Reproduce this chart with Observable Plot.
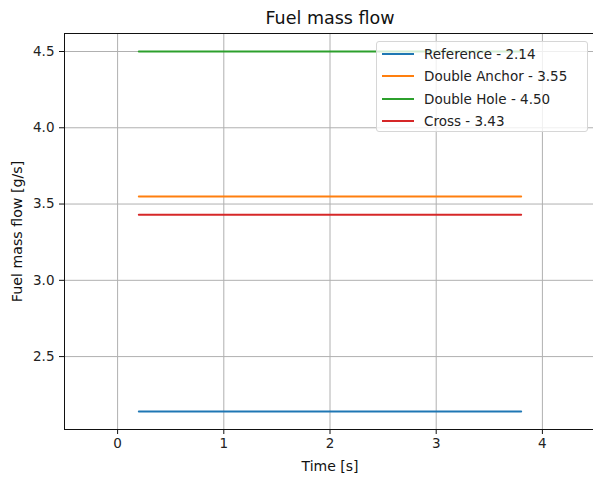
<!DOCTYPE html>
<html>
<head>
<meta charset="utf-8">
<script src="https://cdn.jsdelivr.net/npm/d3@7"></script>
<script src="https://cdn.jsdelivr.net/npm/@observablehq/plot@0.6"></script>
<style>
  html, body { margin: 0; padding: 0; background: #fff; }
  #wrap { position: relative; width: 593px; height: 481px; overflow: hidden; font-family: "DejaVu Sans", sans-serif; }
  #legend { position: absolute; left: 376px; top: 41px; width: 212px; height: 91px;
            background: rgba(255,255,255,0.8); border: 1px solid #d6d6d6; border-radius: 3px; box-sizing: border-box; }
  .row { position: absolute; left: 0; height: 22px; display: flex; align-items: center; font-size: 13.5px; color: #222; white-space: nowrap; }
  .sw { display: inline-block; width: 32px; height: 2px; margin-left: 5px; margin-right: 10px; }
  svg text { font-family: "DejaVu Sans", sans-serif; }
</style>
</head>
<body>
<div id="wrap"></div>
<script>
const title = "Fuel mass flow";
const xLabel = "Time [s]";
const yLabel = "Fuel mass flow [g/s]";
const series = ["Reference", "Double Anchor", "Double Hole", "Cross"];
const flows = [2.14, 3.55, 4.50, 3.43];
const startTime = 0.2;
const endTime = 3.8;
const colors = ["#1f77b4", "#ff7f0e", "#2ca02c", "#d62728"];
const xTicks = [0, 1, 2, 3, 4];
const yTicks = [2.5, 3.0, 3.5, 4.0, 4.5];
const xDomain = [-0.5, 4.5];
const yDomain = [2.022, 4.618];

const lineData = series.flatMap((s, i) => [
  {series: s, t: startTime, v: flows[i]},
  {series: s, t: endTime, v: flows[i]}
]);

const chart = Plot.plot({
  width: 593,
  height: 481,
  marginLeft: 64,
  marginRight: -2,
  marginTop: 33,
  marginBottom: 52,
  style: {fontFamily: "DejaVu Sans, sans-serif", fontSize: "13.5px", color: "#222", background: "white"},
  x: {domain: xDomain, ticks: xTicks},
  y: {domain: yDomain, ticks: yTicks},
  color: {domain: series, range: colors},
  marks: [
    Plot.gridX(xTicks, {stroke: "#b0b0b0", strokeOpacity: 1, strokeWidth: 1}),
    Plot.gridY(yTicks, {stroke: "#b0b0b0", strokeOpacity: 1, strokeWidth: 1}),
    Plot.line(lineData, {x: "t", y: "v", z: "series", stroke: "series", strokeWidth: 2}),
    Plot.frame({stroke: "#111", strokeWidth: 1}),
    Plot.axisX({ticks: xTicks, tickSize: 5, tickPadding: 4, label: null, fontSize: 13.5, tickFormat: d3.format("d"), stroke: "#111"}),
    Plot.axisY({ticks: yTicks, tickSize: 5, tickPadding: 5, label: null, fontSize: 13.5, tickFormat: d3.format(".1f"), stroke: "#111"}),
    Plot.text([title], {frameAnchor: "top", lineAnchor: "middle", dy: -15, fontSize: 17.5, fill: "#111", text: d => d}),
    Plot.text([xLabel], {frameAnchor: "bottom", lineAnchor: "middle", dy: 37, fontSize: 14, fill: "#111", text: d => d}),
    Plot.text([yLabel], {frameAnchor: "left", textAnchor: "middle", lineAnchor: "middle", dx: -47, rotate: -90, fontSize: 14.2, fill: "#111", text: d => d})
  ]
});

const wrap = document.getElementById("wrap");
wrap.appendChild(chart);

const legend = document.createElement("div");
legend.id = "legend";
series.forEach((s, i) => {
  const row = document.createElement("div");
  row.className = "row";
  row.style.top = (1 + i * 22.3) + "px";
  const sw = document.createElement("span");
  sw.className = "sw";
  sw.style.background = colors[i];
  const label = document.createElement("span");
  label.textContent = `${s} - ${flows[i].toFixed(2)}`;
  row.appendChild(sw);
  row.appendChild(label);
  legend.appendChild(row);
});
wrap.appendChild(legend);
</script>
</body>
</html>
